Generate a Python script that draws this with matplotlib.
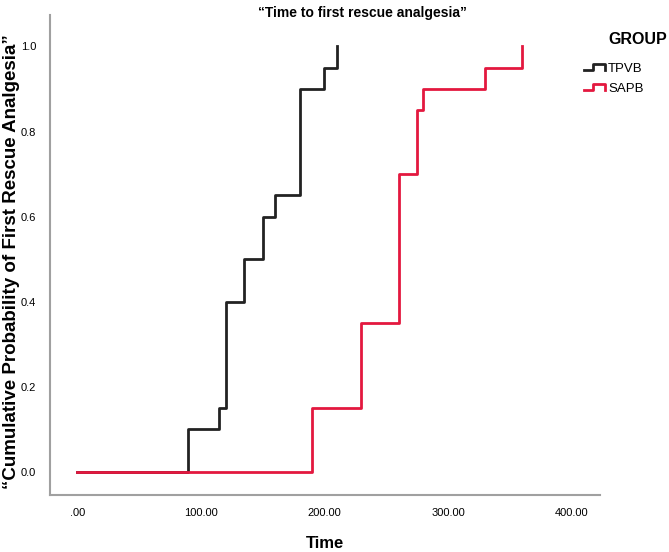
import matplotlib
matplotlib.use("Agg")
import matplotlib.pyplot as plt
from matplotlib.legend_handler import HandlerBase
from matplotlib.lines import Line2D

plt.rcParams['font.family'] = ['Liberation Sans', 'DejaVu Sans']

# cumulative probability of first rescue analgesia
tpvb_time = [0, 90, 115, 120, 135, 150, 160, 180, 200, 210]
tpvb_prob = [0.0, 0.10, 0.15, 0.40, 0.50, 0.60, 0.65, 0.90, 0.95, 1.00]
sapb_time = [0, 190, 230, 260, 275, 280, 330, 360]
sapb_prob = [0.0, 0.15, 0.35, 0.70, 0.85, 0.90, 0.95, 1.00]

x_ticks = [0, 100, 200, 300, 400]
x_labels = ['.00', '100.00', '200.00', '300.00', '400.00']
y_ticks = [0.0, 0.2, 0.4, 0.6, 0.8, 1.0]

black = '#222222'
red = '#E3183F'


class StepHandler(HandlerBase):
    """Draws the little step glyph used in the legend."""
    def create_artists(self, legend, orig, xd, yd, width, height, fontsize, trans):
        xs = [xd, xd + width * 0.45, xd + width * 0.45, xd + width, xd + width]
        ys = [yd + height * 0.2, yd + height * 0.2, yd + height * 0.85,
              yd + height * 0.85, yd + height * 0.2]
        ln = Line2D(xs, ys, color=orig.get_color(), lw=2, transform=trans)
        return [ln]


fig = plt.figure(figsize=(6.69, 5.52), dpi=100)
ax = fig.add_axes([50 / 669, 1 - 495 / 552, 550 / 669, 480 / 552])

l1, = ax.step(tpvb_time, tpvb_prob, where='post', color=black, lw=2, label='TPVB')
l2, = ax.step(sapb_time, sapb_prob, where='post', color=red, lw=2, label='SAPB')

ax.set_xlim(-22, 423)
ax.set_ylim(-0.054, 1.074)
ax.set_xticks(x_ticks)
ax.set_xticklabels(x_labels)
ax.set_yticks(y_ticks)
ax.set_yticklabels([f'{v:.1f}' for v in y_ticks])
ax.tick_params(length=0, labelsize=8, pad=10)
ax.tick_params(axis='x', pad=9)

for side in ['top', 'right']:
    ax.spines[side].set_visible(False)
for side in ['left', 'bottom']:
    ax.spines[side].set_color('#a0a0a0')
    ax.spines[side].set_linewidth(1.5)

fig.text(362 / 669, 1 - 13 / 552, '\u201cTime to first rescue analgesia\u201d',
         ha='center', va='center', fontsize=10, fontweight='bold')
fig.text(12 / 669, 1 - 262 / 552,
         '\u201cCumulative Probability of First Rescue Analgesia\u201d',
         ha='center', va='center', rotation=90, fontsize=13.5, fontweight='bold')
fig.text(325 / 669, 1 - 543 / 552, 'Time', ha='center', va='center',
         fontsize=12, fontweight='bold')

fig.text(638 / 669, 1 - 40 / 552, 'GROUP', ha='center', va='center',
         fontsize=11.5, fontweight='bold')
leg = fig.legend(handles=[l1, l2], loc='upper left',
                 bbox_to_anchor=(577 / 669, 1 - 56 / 552),
                 handler_map={Line2D: StepHandler()},
                 frameon=False, fontsize=9.5, handlelength=1.6,
                 handletextpad=0.25, labelspacing=0.6, borderpad=0)

fig.savefig('out.png', dpi=100)
